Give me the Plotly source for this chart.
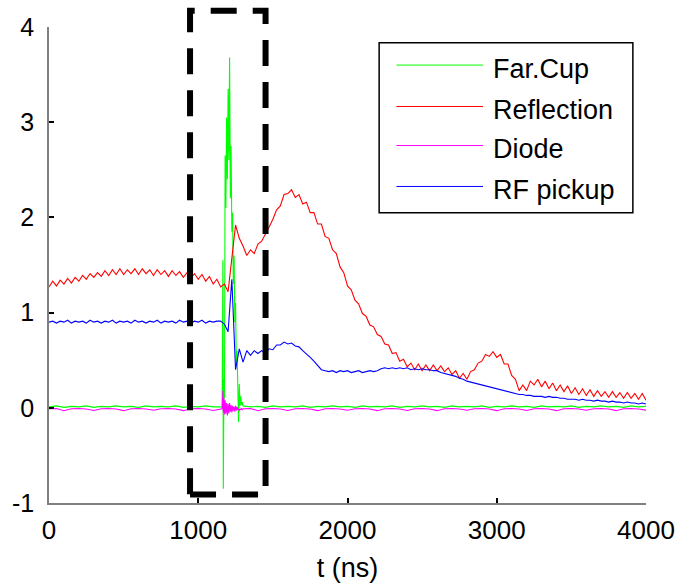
import plotly.graph_objects as go

# ---------------- data ----------------
T_GRID = list(range(0, 4001, 25))  # sampling clock (ns) for Reflection / RF pickup

reflection = [
    1.27, 1.33, 1.28, 1.34, 1.30, 1.36, 1.31, 1.37, 1.33, 1.39,
    1.35, 1.41, 1.37, 1.42, 1.38, 1.44, 1.39, 1.45, 1.40, 1.46,
    1.40, 1.45, 1.41, 1.46, 1.40, 1.46, 1.41, 1.45, 1.39, 1.45,
    1.40, 1.44, 1.38, 1.44, 1.39, 1.43, 1.37, 1.42, 1.36, 1.41,
    1.35, 1.40, 1.33, 1.38, 1.30, 1.35, 1.27, 1.30, 1.22, 1.55,
    1.92, 1.78, 1.70, 1.60, 1.66, 1.62, 1.72, 1.75, 1.82, 1.90,
    1.98, 2.08, 2.12, 2.24, 2.25, 2.29, 2.21, 2.24, 2.14, 2.16,
    2.05, 2.05, 1.93, 1.93, 1.80, 1.78, 1.66, 1.62, 1.48, 1.42,
    1.28, 1.24, 1.13, 1.09, 0.99, 0.96, 0.87, 0.85, 0.77, 0.75,
    0.67, 0.66, 0.57, 0.58, 0.49, 0.51, 0.43, 0.47, 0.40, 0.46,
    0.39, 0.45, 0.39, 0.45, 0.39, 0.44, 0.38, 0.42, 0.35, 0.39,
    0.31, 0.36, 0.30, 0.38, 0.40, 0.47, 0.49, 0.56, 0.54, 0.59,
    0.53, 0.56, 0.46, 0.46, 0.34, 0.30, 0.18, 0.24, 0.18, 0.28,
    0.24, 0.30, 0.22, 0.28, 0.20, 0.26, 0.18, 0.24, 0.17, 0.23,
    0.15, 0.21, 0.14, 0.20, 0.13, 0.19, 0.12, 0.18, 0.12, 0.17,
    0.11, 0.17, 0.11, 0.16, 0.10, 0.16, 0.10, 0.15, 0.09, 0.15,
    0.08,
]

rf_pickup = [
    0.90, 0.91, 0.89, 0.91, 0.90, 0.92, 0.89, 0.91, 0.90, 0.91,
    0.89, 0.92, 0.90, 0.91, 0.89, 0.91, 0.90, 0.92, 0.89, 0.91,
    0.90, 0.91, 0.89, 0.92, 0.90, 0.91, 0.89, 0.91, 0.90, 0.92,
    0.89, 0.91, 0.90, 0.91, 0.89, 0.92, 0.90, 0.91, 0.89, 0.91,
    0.90, 0.92, 0.89, 0.91, 0.90, 0.91, 0.91, 0.88, 0.80, 1.35,
    0.40, 0.62, 0.48, 0.60, 0.55, 0.60, 0.57, 0.60, 0.58, 0.62,
    0.61, 0.66, 0.66, 0.69, 0.67, 0.68, 0.65, 0.64, 0.60, 0.57,
    0.53, 0.49, 0.44, 0.40, 0.39, 0.38, 0.39, 0.37, 0.39, 0.38,
    0.39, 0.37, 0.38, 0.39, 0.37, 0.38, 0.39, 0.38, 0.39, 0.41,
    0.42, 0.41, 0.42, 0.41, 0.42, 0.41, 0.42, 0.40, 0.41, 0.40,
    0.41, 0.40, 0.40, 0.39, 0.39, 0.37, 0.36, 0.35, 0.34, 0.33,
    0.31, 0.30, 0.28, 0.27, 0.26, 0.25, 0.24, 0.23, 0.22, 0.21,
    0.20, 0.19, 0.18, 0.17, 0.16, 0.15, 0.14, 0.14, 0.13, 0.13,
    0.12, 0.12, 0.12, 0.11, 0.12, 0.11, 0.11, 0.10, 0.10, 0.09,
    0.09, 0.09, 0.08, 0.09, 0.08, 0.08, 0.07, 0.08, 0.07, 0.07,
    0.06, 0.07, 0.06, 0.06, 0.05, 0.06, 0.05, 0.05, 0.04, 0.05,
    0.04,
]

far_cup_t = (
    [0, 50, 100, 150, 200, 250, 300, 350, 400, 450, 500, 550,
     600, 650, 700, 750, 800, 850, 900, 950, 1000, 1050, 1100, 1150]
    + [1160, 1165, 1168, 1172, 1176, 1180, 1185, 1190, 1195, 1200,
       1205, 1210, 1215, 1220, 1225, 1230, 1235, 1240, 1245, 1250,
       1255, 1260, 1265, 1270, 1275, 1280, 1285, 1290, 1295]
    + [1300, 1350, 1400, 1450, 1500, 1550, 1600, 1650, 1700, 1750,
       1800, 1850, 1900, 1950, 2000, 2050, 2100, 2150, 2200, 2250,
       2300, 2350, 2400, 2450, 2500, 2550, 2600, 2650, 2700, 2750,
       2800, 2850, 2900, 2950, 3000, 3050, 3100, 3150, 3200, 3250,
       3300, 3350, 3400, 3450, 3500, 3550, 3600, 3650, 3700, 3750,
       3800, 3850, 3900, 3950, 4000]
)
far_cup = (
    [0.010, 0.020, 0.005, 0.015, 0.010, 0.020, 0.005, 0.015, 0.010, 0.020,
     0.010, 0.015, 0.005, 0.020, 0.010, 0.015, 0.010, 0.020, 0.005, 0.015,
     0.010, 0.020, 0.010, 0.015]
    + [0.01, 1.55, -0.85, 0.30, 0.10, 2.65, 2.10, 3.05, 2.40, 3.35,
       2.60, 3.68, 2.20, 2.75, 1.85, 2.05, 1.30, 1.60, 0.90, 1.10,
       0.45, 0.60, 0.15, -0.15, 0.25, 0.02, 0.12, 0.03, 0.06]
    + [0.020, 0.010, 0.015, 0.005, 0.020, 0.010, 0.015, 0.010, 0.020, 0.005,
       0.015, 0.010, 0.020, 0.010, 0.015, 0.005, 0.020, 0.010, 0.015, 0.010,
       0.020, 0.005, 0.015, 0.010, 0.020, 0.010, 0.015, 0.005, 0.020, 0.010,
       0.015, 0.010, 0.020, 0.005, 0.015, 0.010, 0.020, 0.010, 0.015, 0.005,
       0.020, 0.010, 0.015, 0.010, 0.020, 0.005, 0.015, 0.010, 0.020, 0.010,
       0.015, 0.005, 0.020, 0.010, 0.015]
)

diode_t = far_cup_t
diode = (
    [-0.010, -0.008, -0.030, -0.010, -0.008, -0.012, -0.028, -0.010, -0.008, -0.012,
     -0.030, -0.010, -0.008, -0.012, -0.025, -0.010, -0.008, -0.012, -0.030, -0.010,
     -0.008, -0.012, -0.028, -0.010]
    + [-0.01, 0.18, -0.05, 0.10, -0.07, 0.08, -0.06, 0.05, -0.08, 0.04,
       -0.06, 0.05, -0.04, 0.03, -0.05, 0.02, -0.03, 0.01, -0.04, 0.02,
       -0.03, 0.01, -0.02, -0.01, -0.03, -0.01, -0.02, -0.01, -0.02]
    + [-0.010, -0.008, -0.030, -0.010, -0.008, -0.012, -0.028, -0.010, -0.008, -0.012,
       -0.030, -0.010, -0.008, -0.012, -0.025, -0.010, -0.008, -0.012, -0.030, -0.010,
       -0.008, -0.012, -0.028, -0.010, -0.008, -0.012, -0.030, -0.010, -0.008, -0.012,
       -0.025, -0.010, -0.008, -0.012, -0.030, -0.010, -0.008, -0.012, -0.028, -0.010,
       -0.008, -0.012, -0.030, -0.010, -0.008, -0.012, -0.025, -0.010, -0.008, -0.012,
       -0.030, -0.010, -0.008, -0.012, -0.025]
)

SERIES_NAMES = ["Far.Cup", "Reflection", "Diode", "RF pickup"]
SERIES_COLORS = ["#00ff00", "#ff0000", "#ff00ff", "#0000ff"]

X_TICKS = [0, 1000, 2000, 3000, 4000]
Y_TICKS = [-1, 0, 1, 2, 3, 4]
X_RANGE = [0, 4000]
Y_RANGE = [-1, 4]

# highlighted region (data units)
BOX_T = [945, 1451]
BOX_V = [-0.91, 4.17]

FONT = "Liberation Sans, Arial, sans-serif"

# ---------------- figure ----------------
fig = go.Figure()
series = [(far_cup_t, far_cup), (T_GRID, reflection), (diode_t, diode), (T_GRID, rf_pickup)]
for (tx, vy), name, col in zip(series, SERIES_NAMES, SERIES_COLORS):
    fig.add_trace(go.Scatter(x=tx, y=vy, mode="lines", name=name,
                             line=dict(color=col, width=1.1), showlegend=False))


def xp(t):
    return (t - X_RANGE[0]) / (X_RANGE[1] - X_RANGE[0])


def yp(v):
    return (v - Y_RANGE[0]) / (Y_RANGE[1] - Y_RANGE[0])


shapes = [
    dict(type="rect", xref="paper", yref="paper",
         x0=xp(BOX_T[0]), x1=xp(BOX_T[1]), y0=yp(BOX_V[0]), y1=yp(BOX_V[1]),
         line=dict(color="black", width=6, dash="26px,16px"), layer="above"),
]

# manual legend (paper coords)
LEG = dict(x0=0.553, x1=0.978, y0=0.610, y1=0.967)
shapes.append(dict(type="rect", xref="paper", yref="paper", **LEG,
                   line=dict(color="black", width=1.5), fillcolor="white", layer="above"))
leg_rows = [0.920, 0.833, 0.751, 0.665]
annotations = []
for name, col, yy in zip(SERIES_NAMES, SERIES_COLORS, leg_rows):
    shapes.append(dict(type="line", xref="paper", yref="paper", x0=0.582, x1=0.727,
                       y0=yy, y1=yy, line=dict(color=col, width=1), layer="above"))
    annotations.append(dict(xref="paper", yref="paper", x=0.741, y=yy - 0.008, text=name,
                            showarrow=False, xanchor="left", yanchor="middle",
                            font=dict(family=FONT, size=27, color="black")))

fig.update_layout(
    width=684, height=584,
    margin=dict(l=49, r=38, t=27, b=81, autoexpand=False),
    paper_bgcolor="white", plot_bgcolor="white",
    font=dict(family=FONT, size=25, color="black"),
    shapes=shapes, annotations=annotations,
    showlegend=False,
)
fig.update_xaxes(range=X_RANGE, tickvals=X_TICKS, ticktext=[str(v) for v in X_TICKS],
                 automargin=False,
                 showgrid=False, zeroline=False, showline=True, linecolor="#808080",
                 linewidth=1.5, ticks="inside", ticklen=5, tickwidth=1.5, tickcolor="black",
                 ticklabelstandoff=3, tickfont=dict(family=FONT, size=26),
                 title=dict(text="t (ns)", font=dict(family=FONT, size=27), standoff=14))
fig.update_yaxes(range=Y_RANGE, tickvals=Y_TICKS, ticktext=[str(v) for v in Y_TICKS],
                 automargin=False,
                 showgrid=False, zeroline=False, showline=True, linecolor="#808080",
                 linewidth=1.5, ticks="inside", ticklen=5, tickwidth=1.5, tickcolor="black",
                 ticklabelstandoff=8, tickfont=dict(family=FONT, size=25))

fig.write_html("out.html")
